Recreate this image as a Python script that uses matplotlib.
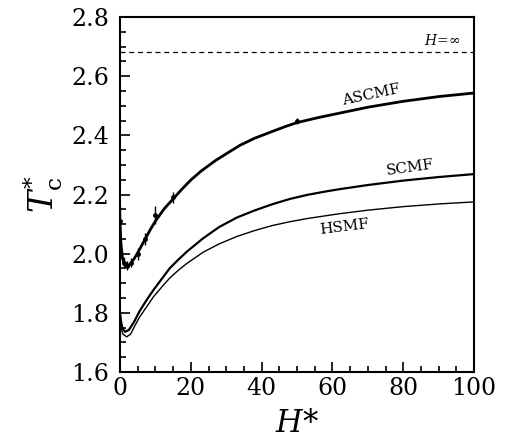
"""Tc* vs H*: ASCMF / SCMF / HSMF curves with simulation points"""

import matplotlib
matplotlib.use("Agg")
import matplotlib.pyplot as plt
from matplotlib.ticker import MultipleLocator

plt.rcParams["font.family"] = "DejaVu Serif"
plt.rcParams["mathtext.fontset"] = "dejavuserif"

# curves
h_ascmf = [0, 0.3, 0.7, 1.2, 2, 3, 4, 5, 6, 7, 8.5, 10, 12.5, 15, 17.5, 20, 23, 27,
           31, 34, 38, 43, 47, 50, 56, 62, 70, 80, 90, 100]
t_ascmf = [2.10, 2.03, 1.985, 1.965, 1.958, 1.966, 1.983, 2.003, 2.025, 2.047, 2.08,
           2.11, 2.152, 2.185, 2.218, 2.249, 2.28, 2.315, 2.345, 2.367, 2.390, 2.413,
           2.431, 2.443, 2.460, 2.475, 2.495, 2.515, 2.531, 2.543]

h_scmf = [0, 0.3, 0.7, 1.4, 2.5, 4, 5.5, 7.5, 9.5, 12, 14, 16.5, 19, 23.5, 28, 33,
          38, 43, 48, 53, 58, 62, 70, 80, 90, 100]
t_scmf = [1.80, 1.77, 1.748, 1.736, 1.742, 1.77, 1.805, 1.843, 1.878, 1.918, 1.95,
          1.98, 2.008, 2.052, 2.09, 2.122, 2.146, 2.167, 2.185, 2.199, 2.210, 2.218,
          2.232, 2.247, 2.259, 2.269]

h_hsmf = [0, 0.3, 0.8, 1.9, 3, 4, 5.5, 7.5, 9.5, 12, 14, 16.5, 19, 23.5, 28, 33,
          38, 43, 48, 53, 62, 70, 80, 90, 100]
t_hsmf = [1.78, 1.75, 1.728, 1.719, 1.728, 1.752, 1.785, 1.82, 1.855, 1.89, 1.917,
          1.944, 1.968, 2.005, 2.033, 2.058, 2.078, 2.095, 2.108, 2.119, 2.135, 2.147,
          2.159, 2.168, 2.175]

# simulation points with error bars
h_sim = [0, 1, 2, 3, 5, 7, 10, 15, 50]
t_sim = [2.11, 1.97, 1.96, 1.97, 2.00, 2.05, 2.13, 2.19, 2.45]
t_err = [0.05, 0.02, 0.015, 0.015, 0.02, 0.02, 0.03, 0.02, 0.01]

t_inf = 2.682

fig = plt.figure(figsize=(5.05, 4.45), dpi=100)
ax = fig.add_axes([120 / 505, 1 - 372 / 445, 354 / 505, 355 / 445])

ax.plot(h_ascmf, t_ascmf, color="black", lw=2.0, solid_joinstyle="round")
ax.plot(h_scmf, t_scmf, color="black", lw=1.6, solid_joinstyle="round")
ax.plot(h_hsmf, t_hsmf, color="black", lw=1.0, solid_joinstyle="round")
ax.errorbar(h_sim, t_sim, yerr=t_err, fmt="o", ms=2.5, color="black",
            elinewidth=1.0, capsize=0)
ax.axhline(t_inf, color="black", lw=0.9, ls=(0, (4, 3)))

ax.text(71, 2.535, "ASCMF", fontsize=11, rotation=12, ha="center", va="center")
ax.text(82, 2.29, "SCMF", fontsize=11, rotation=8, ha="center", va="center")
ax.text(63.5, 2.09, "HSMF", fontsize=11, rotation=7, ha="center", va="center")
ax.text(91, 2.722, r"$H\!=\!\infty$", fontsize=10, ha="center", va="center")

ax.set_xlim(0, 100)
ax.set_ylim(1.6, 2.8)
ax.xaxis.set_major_locator(MultipleLocator(20))
ax.xaxis.set_minor_locator(MultipleLocator(5))
ax.yaxis.set_major_locator(MultipleLocator(0.2))
ax.yaxis.set_minor_locator(MultipleLocator(0.05))
ax.tick_params(which="both", direction="in", top=False, right=False,
               labelsize=17, width=1.2)
ax.tick_params(axis="y", pad=8)
ax.tick_params(which="major", length=7)
ax.tick_params(which="minor", length=4)
ax.yaxis.set_major_formatter(plt.FuncFormatter(lambda v, _: f"{v:.1f}"))
for s in ax.spines.values():
    s.set_linewidth(1.5)

ax.set_xlabel(r"$H$*", fontsize=22, labelpad=6)
ax.set_ylabel(r"$T^{*}_{\mathrm{c}}$", fontsize=24, labelpad=4)

fig.savefig("out.png", dpi=100)
